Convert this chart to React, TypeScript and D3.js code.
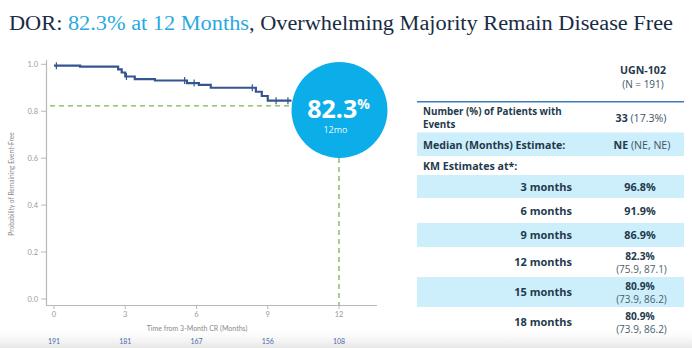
import React from "react";
import * as d3 from "d3";

const kmTimes = [0, 1.1, 2.7, 2.85, 3.0, 3.4, 4.25, 5.6, 6.1, 6.6, 8.5, 8.75, 9.0, 10.0];
const kmSurv = [0.994, 0.99, 0.978, 0.965, 0.948, 0.937, 0.931, 0.92, 0.912, 0.9, 0.883, 0.865, 0.845, 0.845];
const censorTimes = [0.1, 3.05, 5.5, 5.9, 8.35, 9.35, 9.85];
const xTicks = [0, 3, 6, 9, 12];
const yTicks = [0, 0.2, 0.4, 0.6, 0.8, 1.0];
const atRisk = [191, 181, 167, 156, 108];
const landmarkMonth = 12;
const landmarkValue = 0.823;

const kmRowLabels = ["3 months", "6 months", "9 months", "12 months", "15 months", "18 months"];
const kmRowValues = ["96.8%", "91.9%", "86.9%", "82.3%", "80.9%", "80.9%"];
const kmRowCI = ["", "", "", "(75.9, 87.1)", "(73.9, 86.2)", "(73.9, 86.2)"];

const navy = "#1a2b45";
const teal = "#1f3a4c";
const curveColor = "#34558f";
const green = "#74b74e";
const circleBlue = "#0caeea";
const rowBg = "#cdeefb";

export default function App() {
  const x = d3.scaleLinear().domain([0, 12]).range([54, 339]);
  const y = d3.scaleLinear().domain([0, 1]).range([299, 64.3]);
  const pts: [number, number][] = kmTimes.map((t, i) => [t, kmSurv[i]]);
  const line = d3
    .line<[number, number]>()
    .x((d) => x(d[0]))
    .y((d) => y(d[1]))
    .curve(d3.curveStepAfter);
  const survAt = (t: number) => {
    let v = kmSurv[0];
    kmTimes.forEach((tt, i) => {
      if (tt <= t) v = kmSurv[i];
    });
    return v;
  };
  const cx = x(landmarkMonth) + 0.5;
  const cy = 110;
  const r = 48;

  const rowTops = [175, 198, 223, 247, 277, 307];
  const rowBottoms = [198, 223, 247, 277, 307, 337];
  const tFont = "'Open Sans', 'Noto Sans', sans-serif";
  const cFont = "Lato, 'Noto Sans', sans-serif";
  const fs = 10.6;

  return (
    <svg
      width={692}
      height={348}
      style={{ position: "absolute", left: 0, top: 0, background: "#fff" }}
    >
      <defs>
        <linearGradient id="fade" x1="0" y1="0" x2="0" y2="1">
          <stop offset="0" stopColor="#ffffff" stopOpacity="0" />
          <stop offset="1" stopColor="#e6e6e6" stopOpacity="1" />
        </linearGradient>
      </defs>
      <rect x={0} y={0} width={692} height={348} fill="#fff" />
      <rect x={0} y={326} width={692} height={22} fill="url(#fade)" />

      {/* Title */}
      <text
        x={9}
        y={30}
        fontFamily="'Liberation Serif', 'DejaVu Serif', serif"
        fontSize={20}
        fill={navy}
        textLength={664}
        lengthAdjust="spacingAndGlyphs"
      >
        <tspan>DOR: </tspan>
        <tspan fill="#2aa9e1">82.3% at 12 Months</tspan>
        <tspan>, Overwhelming Majority Remain Disease Free</tspan>
      </text>

      {/* Axes */}
      <line x1={46.5} x2={46.5} y1={60} y2={305} stroke="#b8b8b8" strokeWidth={1.2} />
      <line x1={46} x2={377} y1={305.5} y2={305.5} stroke="#b8b8b8" strokeWidth={1.2} />
      {yTicks.map((t) => (
        <g key={"y" + t}>
          <line x1={41} x2={46} y1={y(t)} y2={y(t)} stroke="#b8b8b8" strokeWidth={1} />
          <text
            x={38}
            y={y(t)}
            dy="0.35em"
            textAnchor="end"
            fontFamily={cFont}
            fontSize={7.5}
            fill="#9a9a9a"
          >
            {t.toFixed(1)}
          </text>
        </g>
      ))}
      {xTicks.map((t) => (
        <g key={"x" + t}>
          <line x1={x(t)} x2={x(t)} y1={305} y2={309} stroke="#b8b8b8" strokeWidth={1} />
          <text
            x={x(t)}
            y={317}
            textAnchor="middle"
            fontFamily={cFont}
            fontSize={7.5}
            fill="#9a9a9a"
          >
            {t}
          </text>
        </g>
      ))}
      <text
        x={197}
        y={330.5}
        textAnchor="middle"
        fontFamily={cFont}
        fontSize={7}
        fill="#8a8a8a"
      >
        Time from 3-Month CR (Months)
      </text>
      <text
        transform="translate(14,184) rotate(-90)"
        textAnchor="middle"
        fontFamily={cFont}
        fontSize={6.6}
        fill="#8a8a8a"
      >
        Probability of Remaining Event-Free
      </text>
      {atRisk.map((n, i) => (
        <text
          key={"r" + i}
          x={x(xTicks[i])}
          y={343.5}
          textAnchor="middle"
          fontFamily={cFont}
          fontSize={7}
          fill="#4a6ca8"
        >
          {n}
        </text>
      ))}

      {/* Reference dashes */}
      <line
        x1={50}
        x2={x(landmarkMonth)}
        y1={y(landmarkValue)}
        y2={y(landmarkValue)}
        stroke={green}
        strokeWidth={1.3}
        strokeDasharray="5,4"
      />
      <line
        x1={x(landmarkMonth)}
        x2={x(landmarkMonth)}
        y1={cy + r}
        y2={305}
        stroke={green}
        strokeWidth={1.3}
        strokeDasharray="5,4"
      />

      {/* KM curve */}
      <path d={line(pts) || ""} fill="none" stroke={curveColor} strokeWidth={2.2} />
      {censorTimes.map((t, i) => (
        <line
          key={"c" + i}
          x1={x(t)}
          x2={x(t)}
          y1={y(survAt(t)) - 3.5}
          y2={y(survAt(t)) + 3.5}
          stroke={curveColor}
          strokeWidth={1.2}
        />
      ))}

      {/* Circle callout */}
      <circle cx={cx} cy={cy} r={r} fill={circleBlue} />
      <text
        x={cx - 1}
        y={117.5}
        textAnchor="middle"
        fontFamily={tFont}
        fontWeight={700}
        fill="#fff"
      >
        <tspan fontSize={25}>82.3</tspan>
        <tspan fontSize={14} dy={-9}>%</tspan>
      </text>
      <text
        x={cx - 4}
        y={133}
        textAnchor="middle"
        fontFamily={tFont}
        fontSize={9}
        fill="#eaf7fd"
      >
        12mo
      </text>

      {/* Table */}
      <text x={643} y={74} textAnchor="middle" fontFamily={tFont} fontWeight={700} fontSize={fs} fill={teal}>
        UGN-102
      </text>
      <text x={643} y={88} textAnchor="middle" fontFamily={tFont} fontSize={10} fill="#3e5564">
        (N = 191)
      </text>
      <line x1={417} x2={684} y1={101.8} y2={101.8} stroke="#3b7cc0" strokeWidth={1.6} />

      <text x={423} y={115} fontFamily={tFont} fontWeight={700} fontSize={9.8} fill={teal}>
        Number (%) of Patients with
      </text>
      <text x={423} y={128} fontFamily={tFont} fontWeight={700} fontSize={9.8} fill={teal}>
        Events
      </text>
      <text x={641} y={122} textAnchor="middle" fontFamily={tFont} fontSize={fs} fill="#3e5564">
        <tspan fontWeight={700} fill={teal}>33</tspan>
        <tspan> (17.3%)</tspan>
      </text>

      <rect x={417} y={132.5} width={267} height={23.5} fill={rowBg} />
      <text x={423} y={148.5} fontFamily={tFont} fontWeight={700} fontSize={fs} fill={teal}>
        Median (Months) Estimate:
      </text>
      <text x={642} y={148.5} textAnchor="middle" fontFamily={tFont} fontSize={fs} fill="#3e5564">
        <tspan fontWeight={700} fill={teal}>NE</tspan>
        <tspan> (NE, NE)</tspan>
      </text>

      <text x={423} y={170} fontFamily={tFont} fontWeight={700} fontSize={fs} fill={teal}>
        KM Estimates at*:
      </text>

      {kmRowLabels.map((lab, i) => {
        const top = rowTops[i];
        const bot = rowBottoms[i];
        const mid = (top + bot) / 2;
        const hasCI = kmRowCI[i] !== "";
        return (
          <g key={"row" + i}>
            {i % 2 === 0 && (
              <rect x={417} y={top} width={267} height={bot - top} fill={rowBg} />
            )}
            <text
              x={572}
              y={mid + 4}
              textAnchor="end"
              fontFamily={tFont}
              fontWeight={700}
              fontSize={11}
              fill={teal}
            >
              {lab}
            </text>
            <text
              x={640}
              y={hasCI ? mid - 2.5 : mid + 4}
              textAnchor="middle"
              fontFamily={tFont}
              fontWeight={700}
              fontSize={hasCI ? 10.2 : 10.8}
              fill={teal}
            >
              {kmRowValues[i]}
            </text>
            {hasCI && (
              <text
                x={641.5}
                y={mid + 10.5}
                textAnchor="middle"
                fontFamily={tFont}
                fontSize={10}
                fill="#4a5e6c"
              >
                {kmRowCI[i]}
              </text>
            )}
          </g>
        );
      })}
    </svg>
  );
}
